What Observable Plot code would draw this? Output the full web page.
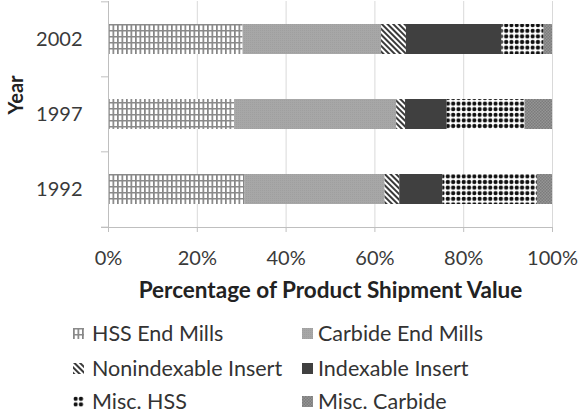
<!DOCTYPE html>
<html>
<head>
<meta charset="utf-8">
<script src="https://cdn.jsdelivr.net/npm/d3@7"></script>
<script src="https://cdn.jsdelivr.net/npm/@observablehq/plot@0.6"></script>
<style>
  html, body { margin: 0; padding: 0; background: #fff; }
  body { width: 581px; height: 414px; overflow: hidden; font-family: Lato, "Open Sans", sans-serif; color: #333; }
  #legend { position: relative; height: 104px; font-size: 21.5px; line-height: 22px; color: #333; }
  .item { position: absolute; display: flex; align-items: center; height: 22px; white-space: nowrap; }
</style>
</head>
<body>
<svg width="0" height="0" style="position:absolute">
  <defs>
    <pattern id="p-hss" width="4.5" height="6" patternUnits="userSpaceOnUse">
      <rect width="4.5" height="6" fill="#fff"/>
      <rect x="0" y="0" width="1.7" height="6" fill="#858585"/>
      <rect x="0" y="0" width="4.5" height="1.5" fill="#8a8a8a"/>
    </pattern>
    <pattern id="p-noni" width="4" height="4" patternUnits="userSpaceOnUse" patternTransform="rotate(-45)">
      <rect width="4" height="4" fill="#fff"/>
      <rect x="0" y="0" width="2" height="4" fill="#3a3a3a"/>
    </pattern>
    <pattern id="p-mhss" width="5.3" height="5.6" patternUnits="userSpaceOnUse">
      <rect width="5.3" height="5.6" fill="#fff"/>
      <circle cx="2.65" cy="2.8" r="2.1" fill="#111"/>
    </pattern>
    <pattern id="p-mcarb" width="3" height="3" patternUnits="userSpaceOnUse">
      <rect width="3" height="3" fill="#959595"/>
      <rect x="0" y="0" width="1.5" height="1.5" fill="#7c7c7c"/>
      <rect x="1.5" y="1.5" width="1.5" height="1.5" fill="#7c7c7c"/>
    </pattern>
    <pattern id="p-carb" width="2" height="2" patternUnits="userSpaceOnUse">
      <rect width="2" height="2" fill="#a7a7a7"/>
      <rect width="1" height="1" fill="#9f9f9f"/>
    </pattern>
  </defs>
</svg>
<div id="chart"></div>
<div id="legend"></div>
<script>
// ---- data ----
const years = ["2002", "1997", "1992"];
const series = ["HSS End Mills", "Carbide End Mills", "Nonindexable Insert", "Indexable Insert", "Misc. HSS", "Misc. Carbide"];
// values per series, in the order of `years`
const hssEndMills        = [30.3, 28.4, 30.8];
const carbideEndMills    = [31.2, 36.5, 31.5];
const nonindexableInsert = [5.6, 2.0, 3.3];
const indexableInsert    = [21.5, 9.4, 9.7];
const miscHSS            = [9.5, 17.5, 21.3];
const miscCarbide        = [1.9, 6.2, 3.4];
const xTicks = [0, 20, 40, 60, 80, 100];
const xLabel = "Percentage of Product Shipment Value";
const yLabel = "Year";

const seriesValues = [hssEndMills, carbideEndMills, nonindexableInsert, indexableInsert, miscHSS, miscCarbide];
const fills = ["url(#p-hss)", "url(#p-carb)", "url(#p-noni)", "#404040", "url(#p-mhss)", "url(#p-mcarb)"];

const rows = [];
series.forEach((s, i) => years.forEach((y, j) => rows.push({series: s, year: y, value: seriesValues[i][j]})));

const W = 581, H = 310, mt = 1, mb = 83, ml = 108, mr = 29;
const step = (H - mt - mb) / years.length;
const axisColor = "#bfbfbf";

const chart = Plot.plot({
  width: W, height: H,
  marginLeft: ml, marginRight: mr, marginTop: mt, marginBottom: mb,
  style: {fontFamily: "Lato, 'Open Sans', sans-serif", fontSize: "20px", color: "#3a3a3a", background: "#fff", overflow: "visible"},
  x: {domain: [0, 100], ticks: xTicks, tickFormat: d => d + "%"},
  y: {domain: years, paddingInner: 0.6, paddingOuter: 0.3},
  color: {domain: series, range: fills},
  marks: [
    Plot.gridX(xTicks, {stroke: "#d9d9d9", strokeOpacity: 1}),
    Plot.barX(rows, {x: "value", y: "year", fill: "series", order: series}),
    Plot.ruleX([0], {stroke: axisColor}),
    Plot.frame({anchor: "bottom", stroke: axisColor, insetLeft: -7}),
    Plot.axisX(xTicks, {tickSize: 5, tickPadding: 18, stroke: axisColor, strokeOpacity: 1, fill: "#3a3a3a", tickFormat: d => d + "%", label: null}),
    Plot.axisY({tickSize: 0, tickPadding: 26, fill: "#3a3a3a", label: null}),
    Plot.axisY(years, {tickSize: 7, stroke: axisColor, strokeOpacity: 1, tickFormat: () => "", dy: -step / 2, label: null}),
    Plot.axisY([years[years.length - 1]], {tickSize: 7, stroke: axisColor, strokeOpacity: 1, tickFormat: () => "", dy: step / 2, label: null}),
    Plot.text([xLabel], {frameAnchor: "bottom", dy: 70, fontWeight: "bold", fill: "#222", fontSize: 22.5}),
    Plot.text([yLabel], {frameAnchor: "left", dx: -92, rotate: -90, fontWeight: "bold", fill: "#222", fontSize: 20})
  ]
});
document.getElementById("chart").appendChild(chart);

// ---- legend ----
const legend = document.getElementById("legend");
const colX = [[73, 92], [302, 318]];
const rowCenter = [333, 368, 401];
series.forEach((s, i) => {
  const col = i % 2, row = Math.floor(i / 2);
  const item = document.createElement("div");
  item.className = "item";
  item.style.left = colX[col][0] + "px";
  item.style.top = (rowCenter[row] - H - 11) + "px";
  const gap = colX[col][1] - colX[col][0] - 11;
  item.innerHTML = `<svg width="11" height="11" style="margin-right:${gap}px"><rect width="11" height="11" fill="${fills[i]}"/></svg><span>${s}</span>`;
  legend.appendChild(item);
});
</script>
</body>
</html>
